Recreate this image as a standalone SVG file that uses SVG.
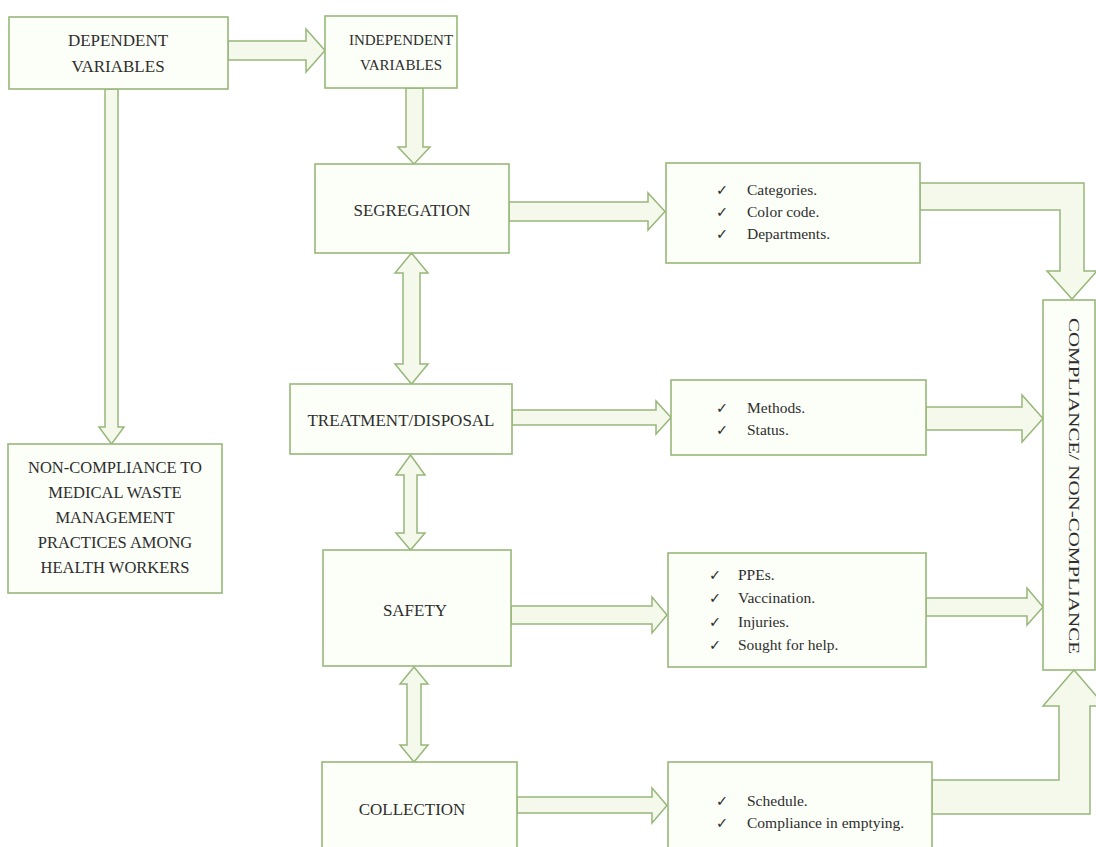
<svg xmlns="http://www.w3.org/2000/svg" width="1096" height="847" viewBox="0 0 1096 847">
<style>
.box{fill:#fcfef8;stroke:#98b77a;stroke-width:1.6}
.arr{fill:#f4f9ec;stroke:#98b77a;stroke-width:1.5;stroke-linejoin:miter}
.t{font-family:"Liberation Serif","Times New Roman",serif;font-size:17px;fill:#2e2e2e;text-anchor:middle}
.t.s{font-size:15px}
.t.m{font-size:16.5px}
.l{font-family:"Liberation Serif","Times New Roman",serif;font-size:15.5px;fill:#2e2e2e}
.c{font-family:"DejaVu Sans",sans-serif;font-size:14.5px;fill:#2e2e2e}
</style>
<rect width="1096" height="847" fill="#ffffff"/>
<g id="connectors">
<polygon class="arr" points="228,41 306,41 306,29 325,50.5 306,72 306,60 228,60"/>
<polygon class="arr" points="105,89 118,89 118,427 124,427 111.5,444 99,427 105,427"/>
<polygon class="arr" points="406,88 423,88 423,147 430,147 414,164 398,147 406,147"/>
<polygon class="arr" points="411.5,253 428,273 420,273 420,364 428,364 411.5,384 395,364 403,364 403,273 395,273"/>
<polygon class="arr" points="410.5,455 425,475 417,475 417,533 425,533 410.5,550 396,533 404,533 404,475 396,475"/>
<polygon class="arr" points="414,667 428,684 421,684 421,745 428,745 414,762 400,745 407,745 407,684 400,684"/>
<polygon class="arr" points="509,202 648,202 648,193 665,211.5 648,230 648,221 509,221"/>
<polygon class="arr" points="512,410 656,410 656,401 671,417.5 656,434 656,425 512,425"/>
<polygon class="arr" points="511,606 652,606 652,597 667,615 652,633 652,624 511,624"/>
<polygon class="arr" points="517,797 652,797 652,788 667,805.5 652,823 652,813 517,813"/>
<polygon class="arr" points="926,407 1022,407 1022,395 1043,418.5 1022,442 1022,430 926,430"/>
<polygon class="arr" points="926,598 1027,598 1027,588 1043,607 1027,625 1027,616 926,616"/>
<polygon class="arr" points="920,183 1084,183 1084,271 1097,271 1072,299 1047,271 1060,271 1060,210 920,210"/>
<polygon class="arr" points="932,814 1090,814 1090,706 1105,706 1074,670 1043,706 1059,706 1059,780 932,780"/>
</g>
<g id="dependent">
<rect class="box" x="9" y="17" width="219" height="72"/>
<text class="t" x="118" y="46">DEPENDENT</text>
<text class="t" x="118" y="72">VARIABLES</text>
</g>
<g id="independent">
<rect class="box" x="325" y="16" width="132" height="72"/>
<text class="t s" x="401" y="45">INDEPENDENT</text>
<text class="t s" x="401" y="70">VARIABLES</text>
</g>
<g id="noncompliance">
<rect class="box" x="8" y="444" width="214" height="149"/>
<text class="t m" x="115" y="473">NON-COMPLIANCE TO</text>
<text class="t m" x="115" y="498">MEDICAL WASTE</text>
<text class="t m" x="115" y="523">MANAGEMENT</text>
<text class="t m" x="115" y="548">PRACTICES AMONG</text>
<text class="t m" x="115" y="573">HEALTH WORKERS</text>
</g>
<g id="segregation">
<rect class="box" x="315" y="164" width="194" height="89"/>
<text class="t" x="412" y="216">SEGREGATION</text>
</g>
<g id="treatment">
<rect class="box" x="290" y="384" width="222" height="70"/>
<text class="t" x="401" y="426">TREATMENT/DISPOSAL</text>
</g>
<g id="safety">
<rect class="box" x="323" y="550" width="188" height="116"/>
<text class="t" x="415" y="616">SAFETY</text>
</g>
<g id="collection">
<rect class="box" x="322" y="762" width="195" height="100"/>
<text class="t" x="412" y="815">COLLECTION</text>
</g>
<g id="segregation-items">
<rect class="box" x="666" y="163" width="254" height="100"/>
<text class="c" x="716" y="195">✓</text><text class="l" x="747" y="195">Categories.</text>
<text class="c" x="716" y="217">✓</text><text class="l" x="747" y="217">Color code.</text>
<text class="c" x="716" y="239">✓</text><text class="l" x="747" y="239">Departments.</text>
</g>
<g id="treatment-items">
<rect class="box" x="671" y="380" width="255" height="75"/>
<text class="c" x="716" y="413">✓</text><text class="l" x="747" y="413">Methods.</text>
<text class="c" x="716" y="435">✓</text><text class="l" x="747" y="435">Status.</text>
</g>
<g id="safety-items">
<rect class="box" x="668" y="553" width="258" height="114"/>
<text class="c" x="709" y="580">✓</text><text class="l" x="738" y="580">PPEs.</text>
<text class="c" x="709" y="603">✓</text><text class="l" x="738" y="603">Vaccination.</text>
<text class="c" x="709" y="627">✓</text><text class="l" x="738" y="627">Injuries.</text>
<text class="c" x="709" y="650">✓</text><text class="l" x="738" y="650">Sought for help.</text>
</g>
<g id="collection-items">
<rect class="box" x="668" y="762" width="264" height="100"/>
<text class="c" x="716" y="806">✓</text><text class="l" x="747" y="806">Schedule.</text>
<text class="c" x="716" y="828">✓</text><text class="l" x="747" y="828">Compliance in emptying.</text>
</g>
<g id="compliance">
<rect class="box" x="1043" y="300" width="52" height="370"/>
<text class="l" transform="translate(1069,318) rotate(90)" textLength="336" lengthAdjust="spacingAndGlyphs">COMPLIANCE/ NON-COMPLIANCE</text>
</g>
</svg>
